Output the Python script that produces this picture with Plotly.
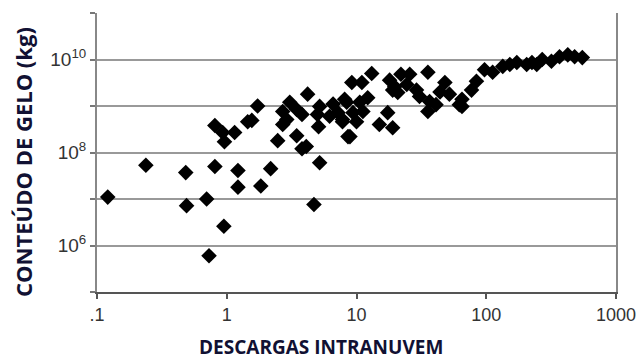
import plotly.graph_objects as go

# Data (x: intracloud flashes, y: ice content kg)
x_vals = [0.121, 0.238, 0.483, 0.49, 0.70, 0.81, 0.93, 0.96, 1.15, 1.45, 0.81, 1.22, 1.22, 0.95, 0.73,
          1.73, 1.56, 2.47, 2.18, 1.83, 3.06, 2.7, 4.2, 3.46, 2.9, 3.8, 5.2, 5.0, 3.46, 5.1, 3.8, 4.1,
          5.2, 4.7, 6.6, 6.2, 7.2, 8.1, 8.6, 9.2, 7.8,
          13.1, 11.0, 18.0, 22.0, 25.7, 35.5, 19.0, 20.8, 29.0, 30.6, 48.0, 52.0, 44.0, 36.6, 35.5, 41.0,
          65.0, 77.0, 84.0, 8.4, 10.6, 12.2, 9.4, 11.2, 7.8, 10.0, 17.4, 15.0, 19.0, 8.9, 19.7, 24.4,
          97.0, 112.0, 152.0, 172.0, 205.0, 245.0, 270.0, 318.0, 367.0, 425.0, 480.0, 550.0, 134.0, 225.0,
          65.0, 62.0, 2.7]
y_vals = [1.1e7, 5.3e7, 3.7e7, 7.2e6, 1.0e7, 3.8e8, 2.7e8, 1.7e8, 2.7e8, 4.6e8, 5.0e7, 4.1e7, 1.8e7, 2.6e6, 6.0e5,
          1.0e9, 4.9e8, 1.8e8, 4.5e7, 1.9e7, 1.2e9, 7.6e8, 1.8e9, 8.4e8, 5.1e8, 6.6e8, 9.8e8, 6.6e8, 2.3e8, 3.6e8, 1.2e8, 1.35e8,
          6.0e7, 7.6e6, 1.1e9, 6.0e8, 7.2e8, 1.4e9, 2.2e8, 3.2e9, 4.6e8,
          5.0e9, 3.2e9, 3.6e9, 4.8e9, 4.8e9, 5.3e9, 2.2e9, 1.95e9, 2.2e9, 1.6e9, 3.2e9, 1.8e9, 2.0e9, 1.25e9, 7.6e8, 1.07e9,
          9.8e8, 2.2e9, 3.4e9, 1.2e9, 1.2e9, 1.5e9, 7.2e8, 7.6e8, 5.1e8, 4.6e8, 7.2e8, 4.0e8, 3.4e8, 2.2e8, 2.6e9, 2.9e9,
          6.0e9, 5.3e9, 7.8e9, 8.6e9, 7.8e9, 7.8e9, 1.0e10, 9.2e9, 1.15e10, 1.26e10, 1.15e10, 1.1e10, 7.1e9, 8.6e9,
          1.4e9, 1.07e9, 4.0e8]

x_tickvals = [0.1, 1, 10, 100, 1000]
x_ticktext = [".1", "1", "10", "100", "1000"]
y_tickvals = [1e6, 1e8, 1e10]
y_ticktext = ["10<sup>6</sup>", "10<sup>8</sup>", "10<sup>10</sup>"]
y_minorvals = [1e5, 1e7, 1e9, 1e11]
x_title = "DESCARGAS INTRANUVEM"
y_title = "CONTEÚDO DE GELO (kg)"

fig = go.Figure()
fig.add_trace(go.Scatter(
    x=x_vals, y=y_vals, mode="markers",
    marker=dict(symbol="diamond", size=12, color="black", line=dict(width=0)),
    showlegend=False,
))

fig.update_layout(
    width=640, height=362,
    margin=dict(l=97, r=24, t=13, b=70),
    paper_bgcolor="white", plot_bgcolor="white",
    font=dict(family="Liberation Sans, Arial, sans-serif", color="#444"),
)
fig.update_xaxes(
    type="log", range=[-1, 3], automargin=False,
    tickvals=x_tickvals, ticktext=x_ticktext,
    tickfont=dict(size=18, color="#333"),
    ticks="outside", ticklen=5, tickcolor="#555", tickwidth=1.5,
    showgrid=False, zeroline=False,
    showline=True, linecolor="#555", linewidth=2,
)
fig.update_yaxes(
    type="log", range=[5, 11], automargin=False,
    tickvals=y_tickvals, ticktext=y_ticktext,
    tickfont=dict(size=19, color="#333"),
    ticks="outside", ticklen=5, tickcolor="#777", tickwidth=1.5,
    showgrid=True, gridcolor="#999", gridwidth=1.5,
    minor=dict(tickvals=y_minorvals, ticks="outside", ticklen=5, tickcolor="#777",
               tickwidth=1.5, showgrid=True, gridcolor="#999", gridwidth=1.5),
    zeroline=False,
    showline=True, linecolor="#888", linewidth=2, mirror=True,
)

fig.add_annotation(
    text="<b>" + x_title + "</b>", xref="paper", yref="paper",
    x=0.4316, y=-0.197, xanchor="center", yanchor="middle", showarrow=False,
    font=dict(family="Open Sans, sans-serif", size=19, color="#111133"),
)
fig.add_annotation(
    text="<b>" + y_title + "</b>", xref="paper", yref="paper",
    x=-0.1426, y=0.466, xanchor="center", yanchor="middle", showarrow=False,
    textangle=-90,
    font=dict(family="Open Sans, sans-serif", size=22, color="#111133"),
)

fig.write_html(
    "out.html",
    config={"displayModeBar": False},
    post_script="document.body.style.margin='0';document.body.style.overflow='hidden';",
)
